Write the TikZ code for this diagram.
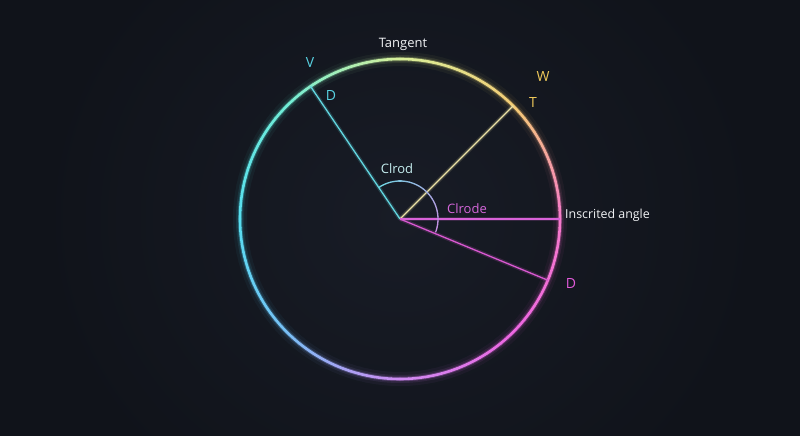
\documentclass[tikz,border=0pt]{standalone}
\usepackage{fontspec}
\setmainfont{Open Sans}
\definecolor{bgin}{HTML}{181C26}
\definecolor{bgout}{HTML}{10131A}
\definecolor{k0}{HTML}{F468C4}
\definecolor{k1}{HTML}{F2C462}
\definecolor{k2}{HTML}{D4EE8C}
\definecolor{k3}{HTML}{5EEAD0}
\definecolor{k4}{HTML}{40DAEE}
\definecolor{k5}{HTML}{64B8F4}
\definecolor{k6}{HTML}{C87CF0}
\definecolor{k7}{HTML}{EA52DE}
\definecolor{k8}{HTML}{F468C4}
\definecolor{acA}{HTML}{6ED8E2}
\definecolor{acB}{HTML}{C88CE2}
\definecolor{cyanln}{HTML}{62D6E0}
\definecolor{yelln}{HTML}{ECE2A6}
\definecolor{magln}{HTML}{D862D8}
\definecolor{pinkln}{HTML}{D858D0}
\definecolor{txtw}{HTML}{F0F2F4}
\definecolor{txtc}{HTML}{58D2E2}
\definecolor{txty}{HTML}{EEC85A}
\definecolor{txtm}{HTML}{D466DA}
\definecolor{txtp}{HTML}{E25ADA}
\definecolor{txtcl}{HTML}{C6EEF0}
\tikzset{
  lbl/.style={font=\fontsize{13}{16}\selectfont, inner sep=0pt},
  letter/.style={font=\fontsize{14}{16}\selectfont, inner sep=0pt},
  radline/.style={line width=1.3pt},
  radglow/.style={line width=4pt, opacity=0.18},
}
\begin{document}
\begin{tikzpicture}[x=1pt,y=1pt]
\useasboundingbox (0,0) rectangle (800,436);
\fill[bgout] (0,0) rectangle (800,436);
\shade[inner color=bgin, outer color=bgout] (40,-120) rectangle (760,556);
\coordinate (O) at (400,217);
\coordinate (Pc) at ([shift={(124:160)}]O);
\coordinate (Py) at ([shift={(45:160)}]O);
\coordinate (Pm) at ([shift={(0:160)}]O);
\coordinate (Pp) at ([shift={(-22.5:160)}]O);
% circle glow layers
\foreach \w/\op in {14/0.05, 8/0.10, 4.5/0.28}{
  \begin{scope}[transparency group, opacity=\op]
  \foreach \a in {0,3,...,357}{
    \pgfmathtruncatemacro{\i}{\a/45}
    \pgfmathtruncatemacro{\j}{\i+1}
    \pgfmathtruncatemacro{\p}{100-(\a+1.5-45*\i)/45*100}
    \colorlet{segc}{k\i!\p!k\j}
    \draw[segc, line width=\w pt, line cap=round] ([shift={(\a:160)}]O) arc (\a:\a+3:160);
  }
  \end{scope}
}
% circle core
\foreach \a in {0,3,...,357}{
  \pgfmathtruncatemacro{\i}{\a/45}
  \pgfmathtruncatemacro{\j}{\i+1}
  \pgfmathtruncatemacro{\p}{100-(\a+1.5-45*\i)/45*100}
  \colorlet{segc}{k\i!\p!k\j}
  \draw[segc!88!white, line width=2.6pt, line cap=round] ([shift={(\a:160)}]O) arc (\a:\a+3:160);
}
% radii
\draw[cyanln, radglow] (O) -- (Pc);
\draw[yelln, radglow] (O) -- (Py);
\draw[magln, radglow] (O) -- (Pm);
\draw[pinkln, radglow] (O) -- (Pp);
\draw[cyanln, radline] (O) -- (Pc);
\draw[yelln, radline] (O) -- (Py);
\draw[magln, radline] (O) -- (Pm);
\draw[pinkln, radline] (O) -- (Pp);
% angle arc
\foreach \a in {0,4,...,140}{
  \pgfmathtruncatemacro{\p}{100-(\a+2)/144*100}
  \colorlet{arcc}{acA!\p!acB}
  \draw[arcc, line width=1.3pt, line cap=round] ([shift={(124-\a:38)}]O) arc (124-\a:120-\a:38);
}
% labels
\node[lbl, text=txtw] (tangent) at (403,392) {Tangent};
\node[letter, text=txtc] (V) at (310,373) {V};
\node[letter, text=txtc] (D1) at (331,340) {D};
\node[letter, text=txty] (W) at (543,359) {W};
\node[letter, text=txty] (T) at (533,333) {T};
\node[lbl, text=txtcl] (crod) at (397,267) {Clrod};
\node[lbl, text=txtm] (crode) at (467,227) {Clrode};
\node[lbl, text=txtw, anchor=west, font=\fontsize{12.4}{15}\selectfont] (insc) at (565,221) {Inscrited angle};
\node[letter, text=txtp] (D2) at (571,152) {D};
\end{tikzpicture}
\end{document}
